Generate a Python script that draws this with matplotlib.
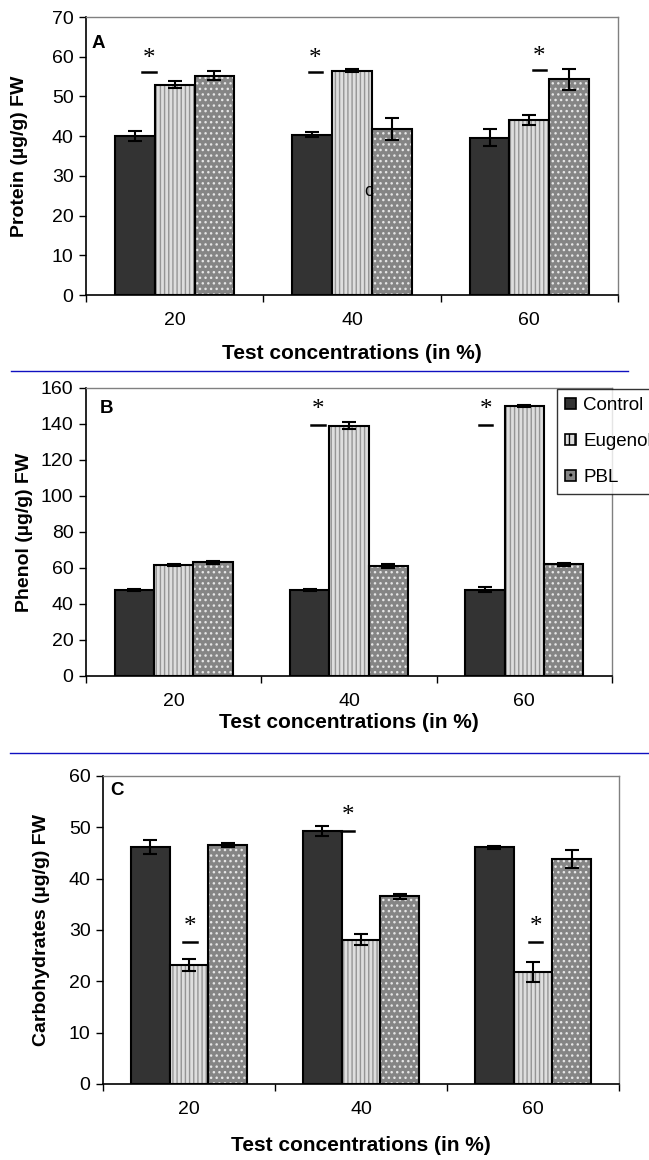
import matplotlib
matplotlib.use("Agg")
import matplotlib.pyplot as plt
from matplotlib.patches import Patch
from matplotlib.lines import Line2D
import numpy as np

plt.rcParams['font.family'] = ['Liberation Sans', 'DejaVu Sans']
plt.rcParams['hatch.linewidth'] = 1.0

conc = ['20', '40', '60']
series = ['Control', 'Eugenol', 'PBL']

# protein content (ug/g FW)
protein_ctrl = [40.0, 40.4, 39.6]
protein_eug = [52.9, 56.5, 44.0]
protein_pbl = [55.2, 41.8, 54.3]
protein_ctrl_err = [1.2, 0.7, 2.2]
protein_eug_err = [0.9, 0.3, 1.3]
protein_pbl_err = [1.1, 2.7, 2.6]

# phenol content (ug/g FW)
phenol_ctrl = [47.8, 47.8, 48.0]
phenol_eug = [61.7, 139.0, 150.0]
phenol_pbl = [63.2, 61.0, 62.0]
phenol_ctrl_err = [0.8, 0.8, 1.5]
phenol_eug_err = [0.5, 2.0, 0.7]
phenol_pbl_err = [0.7, 1.0, 0.8]

# carbohydrate content (ug/g FW)
carb_ctrl = [46.2, 49.3, 46.1]
carb_eug = [23.2, 28.1, 21.8]
carb_pbl = [46.5, 36.6, 43.8]
carb_ctrl_err = [1.3, 0.9, 0.3]
carb_eug_err = [1.2, 1.1, 2.0]
carb_pbl_err = [0.4, 0.5, 1.8]

W = 0.224
x = np.arange(len(conc))

fig = plt.figure(figsize=(6.49, 11.6), dpi=100)
H = 1160.0
Wd = 649.0


def make_ax(left, right, top, bottom):
    return fig.add_axes([left / Wd, (H - bottom) / H, (right - left) / Wd, (bottom - top) / H])


def draw_bars(ax, ctrl, eug, pbl, e1, e2, e3):
    errkw = dict(ecolor='black', elinewidth=1.5, capsize=5, capthick=1.5)
    # control: solid dark bars
    ax.bar(x - W, ctrl, W, color='#333333', edgecolor='black', linewidth=1.5,
           yerr=e1, error_kw=errkw, zorder=2)
    # eugenol: light bars with vertical stripes
    ax.bar(x, eug, W, color='#dedede', edgecolor='#959595', hatch='||||',
           linewidth=0, zorder=2)
    ax.bar(x, eug, W, fill=False, edgecolor='black', linewidth=1.5,
           yerr=e2, error_kw=errkw, zorder=3)
    # PBL: grey bars with light speckles
    ax.bar(x + W, pbl, W, color='#858585', edgecolor='#e6e6e6', hatch='...',
           linewidth=0, zorder=2)
    ax.bar(x + W, pbl, W, fill=False, edgecolor='black', linewidth=1.5,
           yerr=e3, error_kw=errkw, zorder=3)


def style_ax(ax, ymax, ystep, letter, letter_xy, ylabel, ylab_x, xlab_y):
    ax.set_xlim(-0.5, len(conc) - 0.5)
    ax.set_ylim(0, ymax)
    ax.set_yticks(np.arange(0, ymax + 1, ystep))
    ax.set_xticks(x)
    ax.set_xticklabels(conc)
    ax.set_xticks(np.arange(-0.5, len(conc)), minor=True)
    ax.tick_params(axis='x', which='major', length=0, pad=12, labelsize=14)
    ax.tick_params(axis='x', which='minor', length=5, width=1, direction='out')
    ax.tick_params(axis='y', length=5, width=1, direction='out', pad=4, labelsize=14)
    for s in ['left', 'bottom']:
        ax.spines[s].set_color('black')
        ax.spines[s].set_linewidth(1.2)
    for s in ['top', 'right']:
        ax.spines[s].set_color('#808080')
        ax.spines[s].set_linewidth(1.0)
    ax.set_ylabel(ylabel, fontsize=14, fontweight='bold')
    ax.yaxis.set_label_coords(ylab_x, 0.5)
    ax.set_xlabel('Test concentrations (in %)', fontsize=15, fontweight='bold')
    ax.xaxis.set_label_coords(0.5, xlab_y)
    ax.text(letter_xy[0], letter_xy[1], letter, transform=ax.transAxes,
            fontsize=13.5, fontweight='bold', va='top', ha='left')


def stars(ax, xs, ys, off):
    for xi, yi in zip(xs, ys):
        ax.plot([xi - 0.038, xi + 0.038], [yi, yi], color='black', lw=1.8, zorder=4)
        ax.annotate('*', (xi, yi), xytext=(0, off), textcoords='offset points',
                    ha='center', va='center', fontsize=18, family='Liberation Serif')


# panel A
axA = make_ax(86, 618, 17, 295)
draw_bars(axA, protein_ctrl, protein_eug, protein_pbl,
          protein_ctrl_err, protein_eug_err, protein_pbl_err)
style_ax(axA, 70, 10, 'A', (0.011, 0.935), 'Protein (\u00b5g/g) FW', -0.109, -0.175)
stars(axA, [0 - 0.144, 1 - 0.206, 2 + 0.056], [56.2, 56.2, 56.7], 9)
axA.text(1.093, 26, 'c', fontsize=13, ha='center', va='center')

# panel B
axB = make_ax(86, 612, 388, 676)
draw_bars(axB, phenol_ctrl, phenol_eug, phenol_pbl,
          phenol_ctrl_err, phenol_eug_err, phenol_pbl_err)
style_ax(axB, 160, 20, 'B', (0.027, 0.958), 'Phenol (\u00b5g/g) FW', -0.1, -0.13)
stars(axB, [1 - 0.177, 2 - 0.22], [139.4, 139.4], 11)

# legend box runs past the right edge of the figure
handles = [Patch(facecolor='#333333', edgecolor='black', linewidth=1.2),
           Patch(facecolor='#dedede', edgecolor='black', hatch='|||', linewidth=1.2),
           Patch(facecolor='#858585', edgecolor='black', hatch='..', linewidth=1.2)]
leg = fig.legend(handles, series, loc='upper left',
                 bbox_to_anchor=(557 / Wd, (H - 389) / H), fontsize=13.5,
                 frameon=True, fancybox=False, borderpad=0.45, labelspacing=1.0,
                 handlelength=0.55, handleheight=0.55, handletextpad=0.4,
                 borderaxespad=0)
leg.get_frame().set_edgecolor('black')
leg.get_frame().set_linewidth(1.0)

# panel C
axC = make_ax(103, 619, 776, 1084)
draw_bars(axC, carb_ctrl, carb_eug, carb_pbl,
          carb_ctrl_err, carb_eug_err, carb_pbl_err)
style_ax(axC, 60, 10, 'C', (0.014, 0.98), 'Carbohydrates (\u00b5g/g) FW', -0.103, -0.17)
stars(axC, [0 + 0.006, 1 - 0.077, 2 + 0.017], [27.6, 49.2, 27.6], 11)

# separator rules between the panels
for ys, x0, x1 in [(371, 11, 628), (753, 10, 649)]:
    fig.add_artist(Line2D([x0 / Wd, x1 / Wd], [(H - ys) / H, (H - ys) / H],
                          transform=fig.transFigure, color='#1010c0', lw=1.0))

fig.savefig('out.png', dpi=100)
